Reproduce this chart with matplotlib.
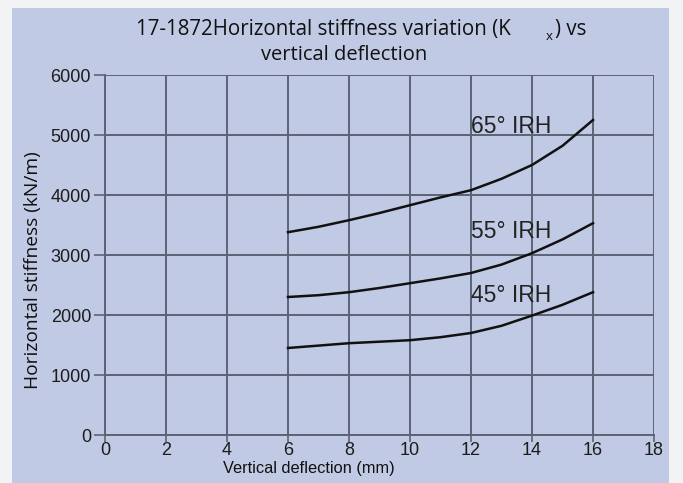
import matplotlib.pyplot as plt
from matplotlib.patches import Rectangle

# values
deflection = [6, 7, 8, 9, 10, 11, 12, 13, 14, 15, 16]
k_65 = [3380, 3470, 3580, 3700, 3830, 3960, 4080, 4270, 4500, 4820, 5250]
k_55 = [2300, 2330, 2380, 2450, 2530, 2610, 2700, 2840, 3030, 3260, 3530]
k_45 = [1450, 1490, 1530, 1555, 1580, 1630, 1700, 1820, 1990, 2170, 2380]
curve_labels = ["65° IRH", "55° IRH", "45° IRH"]
label_pos = [(12.0, 5150), (12.0, 3400), (12.0, 2320)]
x_ticks = list(range(0, 20, 2))
y_ticks = list(range(0, 7000, 1000))

panel = "#c1cae4"
grid_col = "#5d6375"

fig = plt.figure(figsize=(6.83, 4.83), dpi=100, facecolor="#f2f3f5")
fig.patches.append(Rectangle((12 / 683, 0), (669 - 12) / 683, 1 - 8 / 483,
                             transform=fig.transFigure, facecolor=panel,
                             edgecolor="none", zorder=-10))

ax = fig.add_axes([105 / 683, 48 / 483, (654 - 105) / 683, (435 - 75) / 483])
ax.set_zorder(5)
ax.set_facecolor(panel)
ax.set_xlim(0, 18)
ax.set_ylim(0, 6000)
ax.set_xticks(x_ticks)
ax.set_yticks(y_ticks)
ax.grid(True, color=grid_col, linewidth=1.4)
ax.set_axisbelow(True)
for side in ["top", "right"]:
    ax.spines[side].set_visible(False)
for side in ["left", "bottom"]:
    ax.spines[side].set_color(grid_col)
    ax.spines[side].set_linewidth(1.4)
ax.tick_params(axis="y", direction="out", length=8, width=1.2, color=grid_col,
               labelsize=13, labelcolor="#1c1c1c", pad=2)
ax.tick_params(axis="x", direction="out", length=5, width=1.2, color=grid_col,
               labelsize=13, labelcolor="#1c1c1c", pad=0)
for lab in ax.get_xticklabels() + ax.get_yticklabels():
    lab.set_family("Liberation Sans")

for ys in (k_65, k_55, k_45):
    ax.plot(deflection, ys, color="#111111", linewidth=1.8, clip_on=False)
for text, (x, y) in zip(curve_labels, label_pos):
    ax.text(x, y, text, fontsize=16.5, family="Liberation Sans", color="#222222",
            va="center", ha="left")

# axis titles sit off-centre in the reference, so place them by hand
fig.text(309 / 683, 1 - 469 / 483, "Vertical deflection (mm)",
         family="Liberation Sans", fontsize=11.8, va="center", ha="center",
         color="#111111")
fig.text(33 / 683, 1 - 270 / 483, "Horizontal stiffness (kN/m)",
         family="Open Sans", fontsize=13.8, rotation=90, va="center",
         ha="center", color="#111111")

fig.text(136 / 683, 1 - 30 / 483, "17-1872Horizontal stiffness variation (K",
         family="Open Sans", fontsize=14.8, va="center", ha="left", color="#111111")
fig.text(546 / 683, 1 - 37 / 483, "x", family="Open Sans", fontsize=9.5,
         va="center", ha="left", color="#111111")
fig.text(555 / 683, 1 - 30 / 483, ") vs", family="Open Sans", fontsize=14.8,
         va="center", ha="left", color="#111111")
fig.text(344 / 683, 1 - 55 / 483, "vertical deflection", family="Open Sans",
         fontsize=14.5, va="center", ha="center", color="#111111")

fig.savefig("out.png", dpi=100, facecolor=fig.get_facecolor())
